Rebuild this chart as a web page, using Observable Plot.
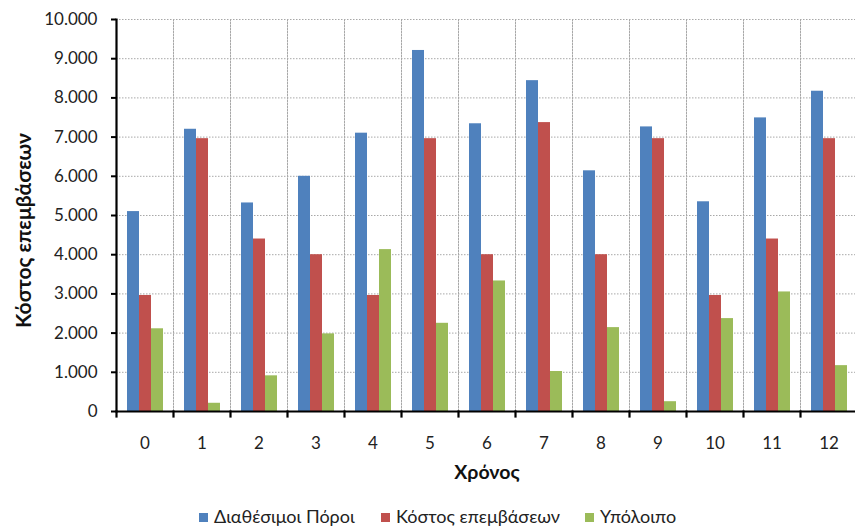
<!DOCTYPE html>
<html><head><meta charset="utf-8">
<script src="https://cdn.jsdelivr.net/npm/d3@7"></script>
<script src="https://cdn.jsdelivr.net/npm/@observablehq/plot@0.6"></script>
<style>
body{margin:0;overflow:hidden;background:#fff;font-family:Lato,"Open Sans",sans-serif;}
#legend{position:relative;height:30px;width:855px;overflow:hidden}
.item{position:absolute;top:10px;line-height:19px;font-size:18px;color:#222;white-space:nowrap}
.sw{display:inline-block;width:9px;height:9px;margin-right:6px;vertical-align:middle;position:relative;top:-1px}
</style>
</head><body><div id="chart"></div><div id="legend"></div><script>
const years = [0,1,2,3,4,5,6,7,8,9,10,11,12];
const seriesNames = ["Διαθέσιμοι Πόροι","Κόστος επεμβάσεων","Υπόλοιπο"];
const resources = [5100,7200,5320,6000,7100,9210,7340,8440,6140,7260,5350,7490,8170];
const costs     = [2960,6960,4400,4000,2960,6960,4000,7370,4000,6960,2960,4400,6960];
const balance   = [2110,210,910,1980,4130,2250,3330,1020,2140,250,2370,3050,1170];
const colors = ["#4F81BD","#C0504D","#9BBB59"];
const yTicks = [0,1000,2000,3000,4000,5000,6000,7000,8000,9000,10000];
const yLabel = "Κόστος επεμβάσεων";
const xLabel = "Χρόνος";

const table = [];
years.forEach((yr, i) => {
  [resources, costs, balance].forEach((arr, s) => table.push({year: yr, series: seriesNames[s], value: arr[i]}));
});

const fmt = d3.formatLocale({decimal: ",", thousands: ".", grouping: [3], currency: ["", "€"]}).format(",");
const H = 497, MT = 19, MB = 86;
const innerH = H - MT - MB;
const font = 'Lato, "Open Sans", sans-serif';

const chart = Plot.plot({
  width: 855, height: H,
  marginLeft: 114, marginRight: -4, marginTop: MT, marginBottom: MB,
  style: {fontFamily: font, background: "white", overflow: "visible"},
  fx: {domain: years, padding: 0, axis: null},
  x: {domain: seriesNames, paddingInner: 0, paddingOuter: 0.75, axis: null},
  y: {domain: [0, 10000], axis: null},
  color: {domain: seriesNames, range: colors},
  marks: [
    Plot.gridY(yTicks, {stroke: "#a8a8a8", strokeOpacity: 1, strokeDasharray: "1.5,1.5"}),
    Plot.frame({anchor: "left", stroke: "#a8a8a8", strokeDasharray: "1.5,1.5"}),
    Plot.barY(table, {fx: "year", x: "series", y: "value", fill: "series"}),
    Plot.ruleY([0], {stroke: "black", strokeWidth: 2.2}),
    Plot.frame({anchor: "left", stroke: "black", strokeWidth: 2.2, insetTop: innerH, insetBottom: -5}),
    Plot.frame({anchor: "left", facetAnchor: "left", stroke: "black", strokeWidth: 2.2}),
    Plot.axisY(yTicks, {anchor: "left", tickSize: 5, tickPadding: 14, tickFormat: fmt, fontSize: 17, fill: "#222", stroke: "black", strokeWidth: 2, label: null}),
    Plot.axisFx({anchor: "bottom", tickSize: 0, tickPadding: 25, fontSize: 17, fill: "#222", label: null}),
    Plot.text([yLabel], {frameAnchor: "left", facetAnchor: "left", textAnchor: "middle", dx: -92, dy: 15, rotate: -90, fontSize: 21, fontWeight: "bold", fill: "#111"}),
    Plot.text([xLabel], {fx: [6], frameAnchor: "bottom", dy: 67, fontSize: 19.5, fontWeight: "bold", fill: "#111"})
  ]
});
document.getElementById("chart").appendChild(chart);

const lefts = [199, 381, 585];
const legend = document.getElementById("legend");
seriesNames.forEach((name, i) => {
  const it = document.createElement("div");
  it.className = "item";
  it.style.left = lefts[i] + "px";
  it.innerHTML = `<span class="sw" style="background:${colors[i]}"></span>${name}`;
  legend.appendChild(it);
});
</script></body></html>
